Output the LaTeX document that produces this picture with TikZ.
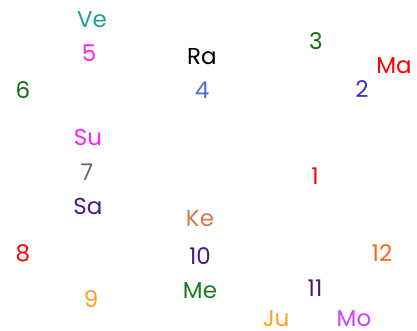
\documentclass[tikz,border=0pt]{standalone}
\usepackage{fontspec}
\setmainfont{Poppins}
\usepackage{tikz}
\usepackage{xcolor}
\definecolor{vtteal}{HTML}{1E9E9E}
\definecolor{vtmag}{HTML}{FF1EFF}
\definecolor{vtroyal}{HTML}{4A6FD8}
\definecolor{vtgreen}{HTML}{0F6E0F}
\definecolor{vtblue}{HTML}{3838C8}
\definecolor{vtgrey}{HTML}{666666}
\definecolor{vtindigo}{HTML}{4B1A80}
\definecolor{vtperu}{HTML}{D2784A}
\definecolor{vtmegreen}{HTML}{1F7A1F}
\definecolor{vtorange}{HTML}{FF6A10}
\definecolor{vtamber}{HTML}{FFA020}
\definecolor{vtviolet}{HTML}{CC44FF}

\begin{document}
\begin{tikzpicture}[x=1pt,y=-1pt,font=\fontsize{23}{26}\selectfont,inner sep=0pt]
        \useasboundingbox (0,0) rectangle (417,331);
        % houses
        \node[color=red] (h1) at (315,176) {1};
        \node[color=vtblue] (h2) at (362,89) {2};
        \node[color=vtgreen] (h3) at (316,41) {3};
        \node[color=vtroyal] (h4) at (202,90) {4};
        \node[color=vtmag] (h5) at (89,53) {5};
        \node[color=vtgreen] (h6) at (23,90) {6};
        \node[color=vtgrey] (h7) at (87,172) {7};
        \node[color=red] (h8) at (23,253) {8};
        \node[color=vtamber] (h9) at (91,299) {9};
        \node[color=vtindigo] (h10) at (200,256) {10};
        \node[color=vtindigo] (h11) at (315,288) {11};
        \node[color=vtorange] (h12) at (382,253) {12};
        % planets
        \node[color=vtteal] (ve) at (92,20) {Ve};
        \node (ra) at (202,57) {Ra};
        \node[color=red] (ma) at (394,66) {Ma};
        \node[color=vtmag] (su) at (88,137) {Su};
        \node[color=vtindigo] (sa) at (88,206) {Sa};
        \node[color=vtperu] (ke) at (200,219) {Ke};
        \node[color=vtmegreen] (me) at (200,291) {Me};
        \node[color=vtamber] (ju) at (276,319) {Ju};
        \node[color=vtviolet] (mo) at (354,319) {Mo};
      \end{tikzpicture}
\end{document}
